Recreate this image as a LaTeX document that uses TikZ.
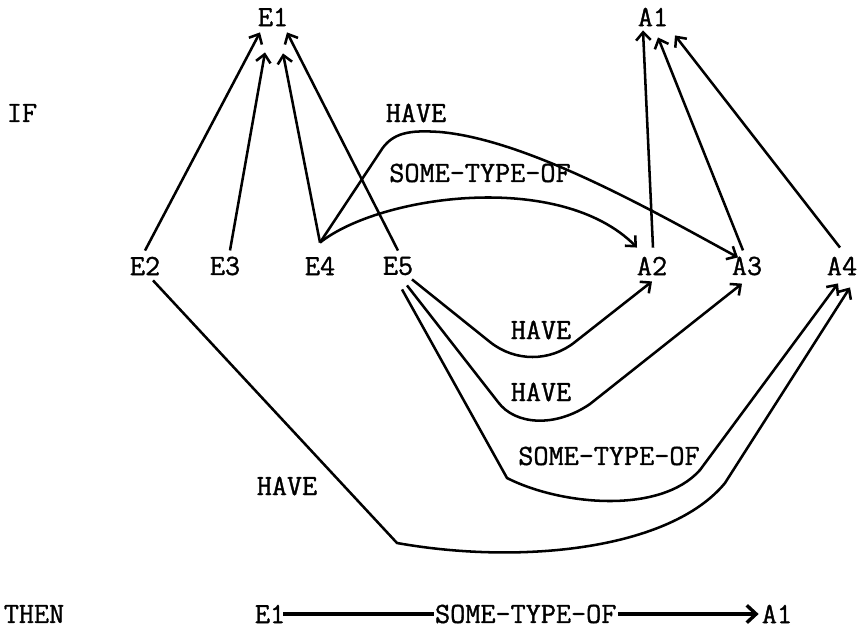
\documentclass[tikz,border=0pt]{standalone}
\usepackage{fontspec}
\newfontfamily\typewriter[FakeBold=1.2]{Latin Modern Mono}
\usetikzlibrary{arrows.meta}
\begin{document}
\begin{tikzpicture}[x=0.75pt,y=-0.75pt,
  every node/.style={font=\fontsize{22}{26}\selectfont\typewriter,inner sep=4.5pt},
  link/.style={line width=1.9pt,-{Straight Barb[length=6pt,width=11pt]}},
  thick link/.style={line width=2.6pt,-{Straight Barb[length=7pt,width=13pt]}}]
\useasboundingbox (0,0) rectangle (861,631);

\node (if) at (22,113) {IF};
\node (then) at (34,614) {THEN};

\node (e1) at (273,17) {E1};
\node (a1) at (653,17) {A1};

\node (e2) at (145,266) {E2};
\node (e3) at (225,266) {E3};
\node (e4) at (320,266) {E4};
\node (e5) at (398,266) {E5};
\node (a2) at (652,266) {A2};
\node (a3) at (747,266) {A3};
\node (a4) at (842,266) {A4};

\node (have1) at (416,113) {HAVE};
\node (sometype1) at (480,173) {SOME-TYPE-OF};
\node (have2) at (541,330) {HAVE};
\node (have3) at (541,392) {HAVE};
\node (sometype2) at (609,456) {SOME-TYPE-OF};
\node (have4) at (287,486) {HAVE};

\draw[link] (e2.north)--([shift={(-13,0)}]e1.south);
\draw[link] ([shift={(5,0)}]e3.north)--([shift={(-8,20)}]e1.south);
\draw[link] ([shift={(0,-8)}]e4.north)--([shift={(10,21)}]e1.south);
\draw[link] (e5.north)--([shift={(14,0)}]e1.south);

\draw[link] ([shift={(1,-3)}]a2.north)--([shift={(-10,-2)}]a1.south);
\draw[link] ([shift={(-4,0)}]a3.north)--([shift={(5,5)}]a1.south);
\draw[link] ([shift={(-2,-3)}]a4.north)--([shift={(22,3)}]a1.south);

\draw[link] ([shift={(0,-8)}]e4.north) -- (380,152)
  .. controls (392,132) and (410,130) .. (440,132)
  .. controls (530,140) and (660,215) .. ([shift={(-9,7)}]a3.north);
\draw[link] ([shift={(0,-8)}]e4.north)
  .. controls (380,195) and (560,170) .. ([shift={(-15,-3)}]a2.north);

\draw[link] ([shift={(14,-2)}]e5.south) -- (490,342)
  .. controls (515,362) and (550,362) .. (575,342) -- (a2.south);
\draw[link] ([shift={(9,4)}]e5.south) -- (498,402)
  .. controls (515,425) and (555,428) .. (590,404) -- ([shift={(-5,2)}]a3.south);
\draw[link] ([shift={(4,8)}]e5.south) -- (507,478)
  .. controls (560,505) and (660,515) .. (700,470) -- ([shift={(-4,2)}]a4.south);
\draw[link] ([shift={(8,-1)}]e2.south) -- (397,543)
  .. controls (520,565) and (670,550) .. (725,483) -- ([shift={(8,6)}]a4.south);

\node[inner sep=0pt] (e1b) at (270,614) {E1};
\node[inner sep=0pt] (a1b) at (777,614) {A1};
\draw[thick link] ([shift={(-2,0)}]e1b.east) -- node[fill=white,inner sep=1pt,pos=0.51] (sometype3) {SOME-TYPE-OF} ([shift={(-3,0)}]a1b.west);
\end{tikzpicture}
\end{document}
